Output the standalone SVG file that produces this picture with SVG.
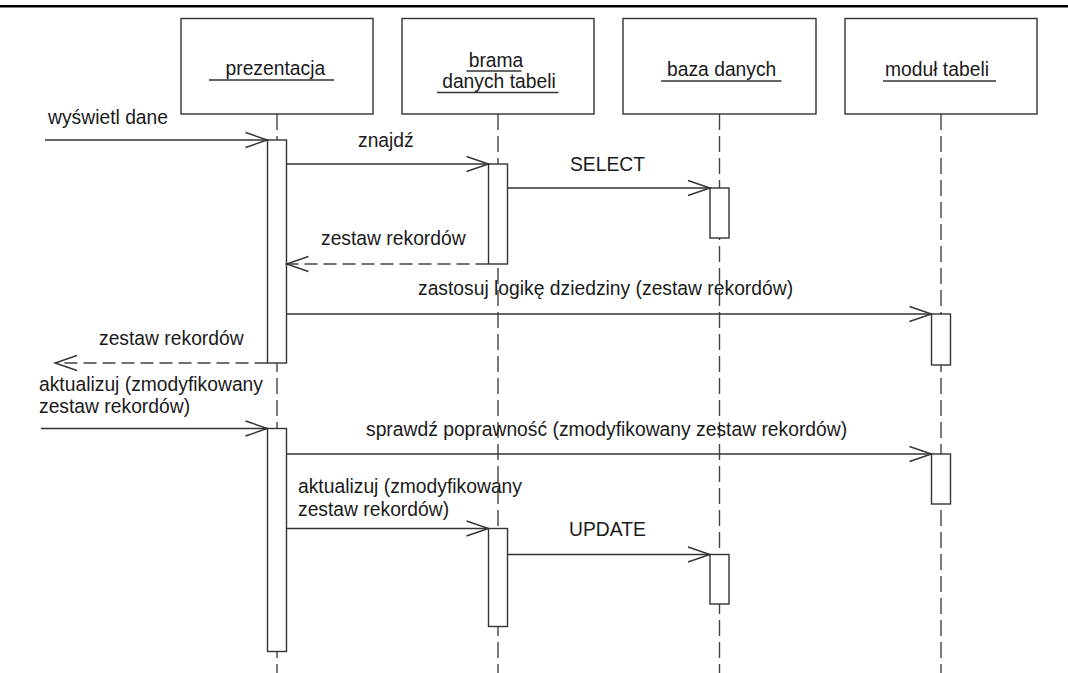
<svg xmlns="http://www.w3.org/2000/svg" width="1068" height="673" viewBox="0 0 1068 673">
<style>
  .box{fill:#fff;stroke:#333;stroke-width:1.4}
  .life{stroke:#444;stroke-width:1.4;stroke-dasharray:16 6;fill:none}
  .act{fill:#fff;stroke:#333;stroke-width:1.4}
  .msg{stroke:#333;stroke-width:1.4;fill:none}
  .ret{stroke:#444;stroke-width:1.4;fill:none;stroke-dasharray:13 6}
  .ul{stroke:#333;stroke-width:1.3}
  text{font-family:"Liberation Sans",Arial,sans-serif;font-size:19.3px;fill:#1a1a1a}
  .c{text-anchor:middle}
</style>
<defs>
  <marker id="open" markerUnits="userSpaceOnUse" markerWidth="30" markerHeight="20" refX="23" refY="8" orient="auto" overflow="visible">
    <path d="M1,0.5 L23,8 L1,15.5" fill="none" stroke="#333" stroke-width="1.4" stroke-dasharray="none"/>
  </marker>
</defs>
<rect width="1068" height="673" fill="#fff"/>
<line x1="0" y1="6.2" x2="1068" y2="6.2" stroke="#000" stroke-width="2.6"/>

<g id="lifelines">
  <line class="life" x1="277" y1="114" x2="277" y2="673"/>
  <line class="life" x1="498" y1="114" x2="498" y2="673"/>
  <line class="life" x1="719.5" y1="114" x2="719.5" y2="673"/>
  <line class="life" x1="941" y1="114" x2="941" y2="673"/>
</g>

<g id="prezentacja">
  <rect class="box" x="181" y="18.5" width="192" height="95.5"/>
  <text x="225.5" y="75">prezentacja</text>
  <line class="ul" x1="209" y1="80" x2="334" y2="80"/>
</g>
<g id="brama">
  <rect class="box" x="402" y="18.5" width="192" height="95.5"/>
  <text class="c" x="496" y="66.5">brama</text>
  <line class="ul" x1="466.5" y1="71" x2="521.5" y2="71"/>
  <text class="c" x="499" y="88">danych tabeli</text>
  <line class="ul" x1="437" y1="92.5" x2="558.5" y2="92.5"/>
</g>
<g id="baza">
  <rect class="box" x="623" y="18.5" width="193" height="95.5"/>
  <text x="667" y="76">baza danych</text>
  <line class="ul" x1="661" y1="81" x2="781.5" y2="81"/>
</g>
<g id="modul">
  <rect class="box" x="845" y="18.5" width="192" height="95.5"/>
  <text x="885" y="76">moduł tabeli</text>
  <line class="ul" x1="883" y1="81" x2="996" y2="81"/>
</g>

<g id="activations">
  <rect class="act" x="267.5" y="140" width="19" height="223"/>
  <rect class="act" x="488.5" y="164" width="19" height="100"/>
  <rect class="act" x="710" y="188" width="19" height="50"/>
  <rect class="act" x="931.5" y="314" width="19" height="51"/>
  <rect class="act" x="267.5" y="428.5" width="19" height="223"/>
  <rect class="act" x="931.5" y="454" width="19" height="50"/>
  <rect class="act" x="488.5" y="528.5" width="19" height="98"/>
  <rect class="act" x="710" y="554.5" width="19" height="49.5"/>
</g>

<g id="connectors">
  <line class="msg" x1="45" y1="140" x2="267.5" y2="140" marker-end="url(#open)"/>
  <line class="msg" x1="286.5" y1="164" x2="488.5" y2="164" marker-end="url(#open)"/>
  <line class="msg" x1="507.5" y1="188" x2="710" y2="188" marker-end="url(#open)"/>
  <line class="ret" x1="488.5" y1="264" x2="286.5" y2="264" marker-end="url(#open)"/>
  <line class="msg" x1="286.5" y1="314" x2="931.5" y2="314" marker-end="url(#open)"/>
  <line class="ret" x1="267.5" y1="363" x2="55" y2="363" marker-end="url(#open)"/>
  <line class="msg" x1="41" y1="428.5" x2="267.5" y2="428.5" marker-end="url(#open)"/>
  <line class="msg" x1="286.5" y1="454" x2="931.5" y2="454" marker-end="url(#open)"/>
  <line class="msg" x1="286.5" y1="528.5" x2="488.5" y2="528.5" marker-end="url(#open)"/>
  <line class="msg" x1="507.5" y1="554.5" x2="710" y2="554.5" marker-end="url(#open)"/>
</g>

<g id="labels">
  <text x="48" y="124">wyświetl dane</text>
  <text x="358" y="146.5">znajdź</text>
  <text x="570" y="171">SELECT</text>
  <text x="321" y="245">zestaw rekordów</text>
  <text x="418" y="295">zastosuj logikę dziedziny (zestaw rekordów)</text>
  <text x="99" y="344.5">zestaw rekordów</text>
  <text x="39" y="390.5">aktualizuj (zmodyfikowany</text>
  <text x="39" y="413">zestaw rekordów)</text>
  <text x="366" y="435.5">sprawdź poprawność (zmodyfikowany zestaw rekordów)</text>
  <text x="298" y="493">aktualizuj (zmodyfikowany</text>
  <text x="298" y="516">zestaw rekordów)</text>
  <text x="569" y="535.5">UPDATE</text>
</g>
</svg>
